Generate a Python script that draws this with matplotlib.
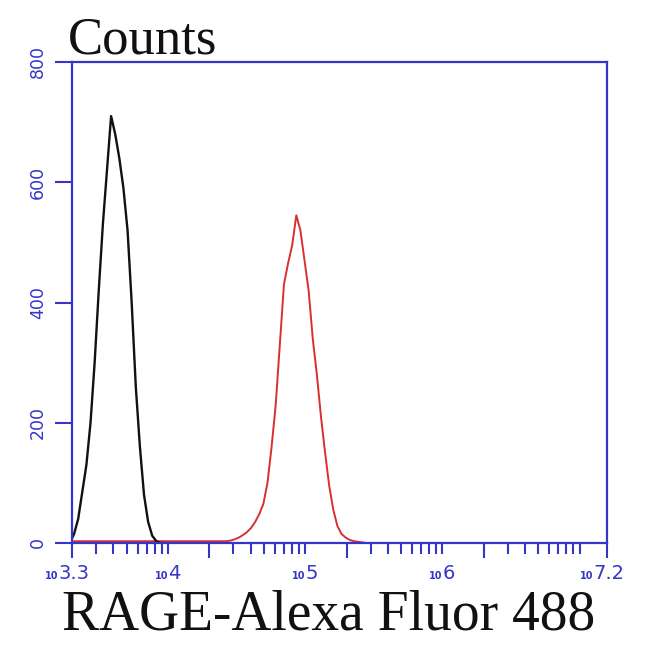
import numpy as np
import matplotlib
matplotlib.use("Agg")
import matplotlib.pyplot as plt

# ---- data (log10 of fluorescence, counts per bin) ----
bin_width = 0.03
black_start = 3.27
black_counts = [0, 15, 40, 85, 130, 200, 300, 420, 530, 620, 710, 680, 640,
                590, 520, 400, 260, 160, 80, 35, 12, 3, 0, 0]
red_start = 3.30
red_counts = [3, 3, 3, 3, 3, 3, 3, 3, 3, 3, 3, 3, 3, 3, 3, 3, 3, 3, 3,
              3, 3, 3, 3, 3, 3, 3, 3, 3, 3, 3, 3, 3, 3, 3, 3, 3, 3, 3,
              4, 6, 9, 13, 18, 25, 35, 48, 65, 100, 160, 230, 330, 430,
              465, 495, 545, 520, 470, 420, 340, 280, 210, 150, 95, 55,
              28, 15, 9, 5, 3, 2, 1, 0]
x_exponents = ["3.3", "4", "5", "6", "7.2"]
y_ticks = [0, 200, 400, 600, 800]
x_range = (3.3, 7.2)
y_range = (0, 800)

blue = "#3535c8"

fig = plt.figure(figsize=(6.5, 6.45), dpi=100)
ax = fig.add_axes([72/650, 1-543/645, 535/650, 481/645])
ax.set_xscale("log")

def centers(start, n):
    return 10 ** (start + bin_width * (np.arange(n) + 0.5))

ax.plot(centers(red_start, len(red_counts)), red_counts, color="#d83030",
        linewidth=1.4)
ax.plot(centers(black_start, len(black_counts)), black_counts, color="#111111",
        linewidth=1.7)

ax.set_xlim(10 ** x_range[0], 10 ** x_range[1])
ax.set_ylim(*y_range)

for s in ax.spines.values():
    s.set_color(blue)
    s.set_linewidth(1.6)

# x ticks
major = [10 ** x_range[0], 2e4, 2e5, 2e6, 10 ** x_range[1]]
minor = []
for n in range(3, 8):
    for k in [1, 3, 4, 5, 6, 7, 8, 9]:
        v = k * 10 ** n
        if 10 ** x_range[0] < v < 10 ** x_range[1]:
            minor.append(v)
ax.set_xticks(major)
ax.set_xticks(minor, minor=True)
ax.set_xticklabels([])
ax.set_xticklabels([], minor=True)
ax.tick_params(axis="x", which="major", direction="out", length=11, width=1.5, colors=blue)
ax.tick_params(axis="x", which="minor", direction="out", length=8, width=1.5, colors=blue)

for e in x_exponents:
    xv = 10 ** float(e)
    dx = 0 if "." not in e else -10
    ax.annotate("10", xy=(xv, 0), xycoords=("data", "axes fraction"),
                xytext=(dx, -26), textcoords="offset points",
                ha="right", va="baseline", fontsize=7, fontweight="bold",
                color=blue, annotation_clip=False)
    ax.annotate(e, xy=(xv, 0), xycoords=("data", "axes fraction"),
                xytext=(dx, -26), textcoords="offset points",
                ha="left", va="baseline", fontsize=14,
                color=blue, annotation_clip=False)

# y ticks
ax.set_yticks(y_ticks)
ax.set_yticklabels([str(v) for v in y_ticks], rotation=90, va="center",
                   fontsize=12.5, color=blue)
ax.tick_params(axis="y", direction="out", length=12, width=1.5, colors=blue, pad=6)
ax.yaxis.set_minor_locator(matplotlib.ticker.NullLocator())

fig.text(68/650, 1-53/645, "Counts", fontsize=38, family="Liberation Serif",
         ha="left", va="baseline", color="#111111")
fig.text(62/650, 1-630/645, "RAGE-Alexa Fluor 488", fontsize=40,
         family="Liberation Serif", ha="left", va="baseline", color="#111111")

fig.savefig("out.png", dpi=100)
